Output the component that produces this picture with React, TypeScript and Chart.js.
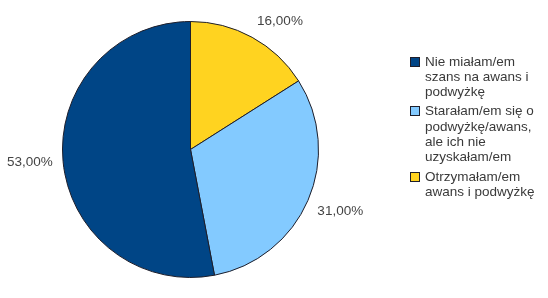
import React, { useEffect, useRef } from "react";
import { Chart, registerables } from "chart.js";

Chart.register(...registerables);

// Legend order (top to bottom)
const categories: string[] = [
  "Nie miałam/em szans na awans i podwyżkę",
  "Starałam/em się o podwyżkę/awans, ale ich nie uzyskałam/em",
  "Otrzymałam/em awans i podwyżkę",
];
const legendLines: string[][] = [
  ["Nie miałam/em", "szans na awans i", "podwyżkę"],
  ["Starałam/em się o", "podwyżkę/awans,", "ale ich nie", "uzyskałam/em"],
  ["Otrzymałam/em", "awans i podwyżkę"],
];
const values: number[] = [53, 31, 16];
const colors: string[] = ["#004586", "#83caff", "#ffd320"];
const valueLabels: string[] = ["53,00%", "31,00%", "16,00%"];

const FONT = '"Liberation Sans", Arial, sans-serif';

const outsideLabels = {
  id: "outsideLabels",
  afterDatasetsDraw(chart: any) {
    const ctx = chart.ctx;
    const meta = chart.getDatasetMeta(0);
    const lbls: string[] = chart.data.datasets[0].valueLabels;
    ctx.save();
    ctx.font = `13.5px ${FONT}`;
    ctx.fillStyle = "#444";
    meta.data.forEach((arc: any, i: number) => {
      const { x, y, startAngle, endAngle, outerRadius } = arc.getProps(
        ["x", "y", "startAngle", "endAngle", "outerRadius"],
        true
      );
      const mid = (startAngle + endAngle) / 2;
      const dx = Math.cos(mid);
      const dy = Math.sin(mid);
      const r = outerRadius * 1.08;
      const ax = x + dx * r;
      const ay = y + dy * r;
      ctx.textAlign = dx >= 0 ? "left" : "right";
      if (Math.abs(dy) < 0.3) ctx.textBaseline = "middle";
      else if (dy < 0) ctx.textBaseline = "bottom";
      else ctx.textBaseline = "top";
      ctx.fillText(lbls[i], ax, ay);
    });
    ctx.restore();
  },
};

export default function App() {
  const ref = useRef<HTMLCanvasElement | null>(null);

  useEffect(() => {
    if (!ref.current) return;
    const order = [2, 1, 0];
    const chart = new Chart(ref.current, {
      type: "pie",
      data: {
        labels: order.map((i) => categories[i]),
        datasets: [
          {
            data: order.map((i) => values[i]),
            backgroundColor: order.map((i) => colors[i]),
            borderColor: "#1e1e2a",
            borderWidth: 1,
            // @ts-ignore
            valueLabels: order.map((i) => valueLabels[i]),
          } as any,
        ],
      },
      options: {
        animation: false,
        responsive: false,
        maintainAspectRatio: false,
        layout: { padding: { left: 62, right: 229, top: 21, bottom: 20 } },
        plugins: {
          legend: { display: false },
          tooltip: { enabled: false },
        },
      },
      plugins: [outsideLabels],
    });
    return () => chart.destroy();
  }, []);

  return (
    <div
      style={{
        position: "fixed",
        left: 0,
        top: 0,
        width: 548,
        height: 298,
        background: "#fff",
        overflow: "hidden",
      }}
    >
      <canvas ref={ref} width={548} height={298} style={{ position: "absolute", left: 0, top: 0 }} />
      <div
        style={{
          position: "absolute",
          left: 410,
          top: 53.5,
          display: "flex",
          flexDirection: "column",
          gap: 4,
          fontFamily: FONT,
          fontSize: 13.5,
          lineHeight: "15.3px",
          color: "#3a3a3a",
        }}
      >
        {categories.map((c, i) => (
          <div key={c} style={{ position: "relative", paddingLeft: 15 }}>
            <span
              style={{
                position: "absolute",
                left: 0,
                top: 3,
                width: 8,
                height: 8,
                background: colors[i],
                border: "1px solid #1e1e2a",
              }}
            />
            {legendLines[i].map((l, j) => (
              <div key={j} style={{ whiteSpace: "nowrap" }}>
                {l}
              </div>
            ))}
          </div>
        ))}
      </div>
    </div>
  );
}
